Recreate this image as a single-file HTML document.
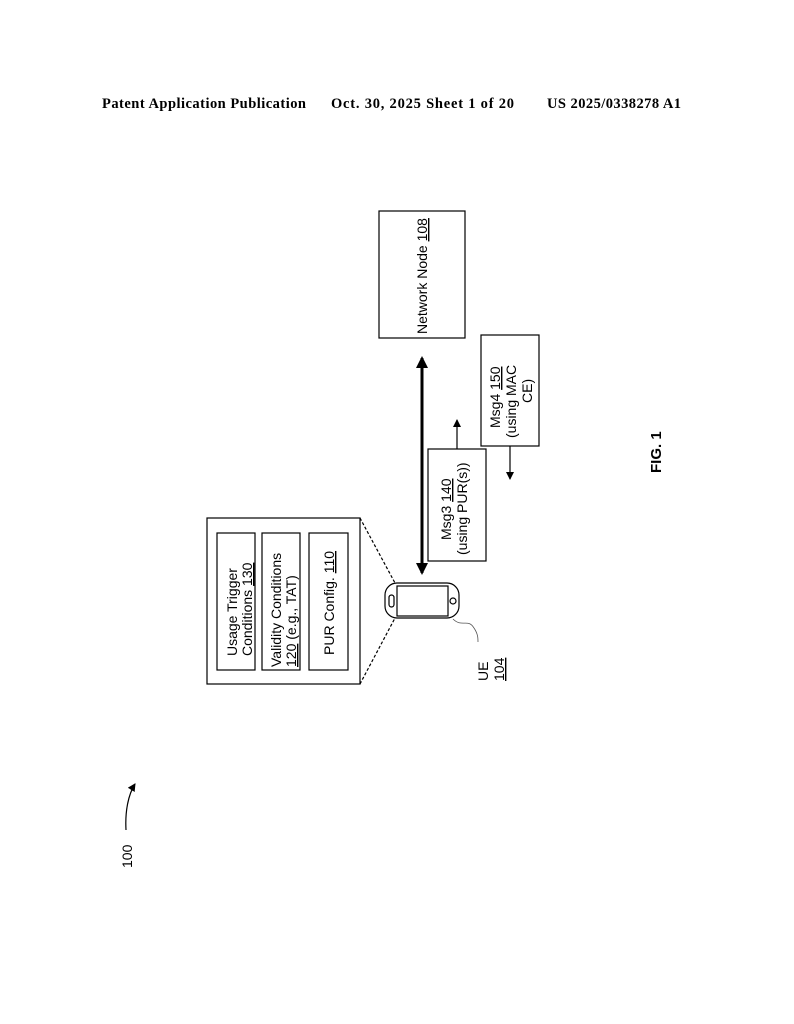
<!DOCTYPE html>
<html><head><style>
body{margin:0;background:#fff;}
svg{display:block;font-family:"Liberation Sans",Arial,sans-serif;}
</style></head><body>
<svg width="794" height="1024" viewBox="0 0 794 1024" xmlns="http://www.w3.org/2000/svg">
<defs>
<marker id="ah" markerWidth="8" markerHeight="8" refX="7" refY="4" orient="auto" markerUnits="userSpaceOnUse"><path d="M0,0 L8,4 L0,8 z" fill="#000"/></marker>
<marker id="ahb" markerWidth="12" markerHeight="12" refX="10" refY="6" orient="auto-start-reverse" markerUnits="userSpaceOnUse"><path d="M0,0 L12,6 L0,12 z" fill="#000"/></marker>
</defs>
<g font-family="Liberation Serif,serif" font-weight="bold" font-size="14.5">
<text x="102" y="108" textLength="204" lengthAdjust="spacing">Patent Application Publication</text>
<text x="331" y="108" textLength="183" lengthAdjust="spacing">Oct. 30, 2025  Sheet 1 of 20</text>
<text x="547" y="108" textLength="134" lengthAdjust="spacing">US 2025/0338278 A1</text>
</g>
<g fill="none" stroke="#000" stroke-width="1.2">
<rect x="379" y="211" width="86" height="127"/>
<rect x="481" y="335" width="58" height="111"/>
<rect x="428" y="449" width="58" height="112"/>
<rect x="207" y="518" width="153" height="166"/>
<rect x="217" y="533" width="38" height="137"/>
<rect x="262" y="533" width="38" height="137"/>
<rect x="309" y="533" width="39" height="137"/>
<rect x="385" y="583" width="74" height="35" rx="12"/>
<rect x="397" y="586" width="51" height="30"/>
<rect x="389" y="595" width="5" height="12" rx="2.5"/>
<circle cx="453" cy="601" r="3"/>
<path d="M453,619 C462,628 468,618 474,628 C478,634 478,638 478,642" stroke-width="0.8" stroke="#555"/>
<line x1="360" y1="518" x2="395" y2="583" stroke-dasharray="3,2"/>
<line x1="360" y1="684" x2="395" y2="618" stroke-dasharray="3,2"/>
<line x1="457" y1="449" x2="457" y2="420" marker-end="url(#ah)"/>
<line x1="510" y1="446" x2="510" y2="479" marker-end="url(#ah)"/>
<line x1="422" y1="358" x2="422" y2="573" stroke-width="3" marker-end="url(#ahb)" marker-start="url(#ahb)" />
<path d="M126,830 C125,812 128,795 135,784" marker-end="url(#ah)"/>
</g>
<g font-size="14" fill="#000">
<text transform="translate(427,334) rotate(-90)">Network Node <tspan text-decoration="underline">108</tspan></text>
<text transform="translate(500,428) rotate(-90)">Msg4 <tspan text-decoration="underline">150</tspan></text>
<text transform="translate(516,438) rotate(-90)">(using MAC</text>
<text transform="translate(532,403) rotate(-90)">CE)</text>
<text transform="translate(451,540) rotate(-90)">Msg3 <tspan text-decoration="underline">140</tspan></text>
<text transform="translate(467,555) rotate(-90)">(using PUR(s))</text>
<text transform="translate(237,656) rotate(-90)">Usage Trigger</text>
<text transform="translate(252,656) rotate(-90)">Conditions <tspan text-decoration="underline">130</tspan></text>
<text transform="translate(281,667) rotate(-90)">Validity Conditions</text>
<text transform="translate(296,667) rotate(-90)"><tspan text-decoration="underline">120</tspan> (e.g., TAT)</text>
<text transform="translate(334,655) rotate(-90)">PUR Config. <tspan text-decoration="underline">110</tspan></text>
<text transform="translate(488,681) rotate(-90)">UE</text>
<text transform="translate(504,681) rotate(-90)" text-decoration="underline">104</text>
<text transform="translate(132,868) rotate(-90)">100</text>
<text transform="translate(661,473) rotate(-90)" font-weight="bold" font-size="15">FIG. 1</text>
</g>
</svg>
</body></html>
